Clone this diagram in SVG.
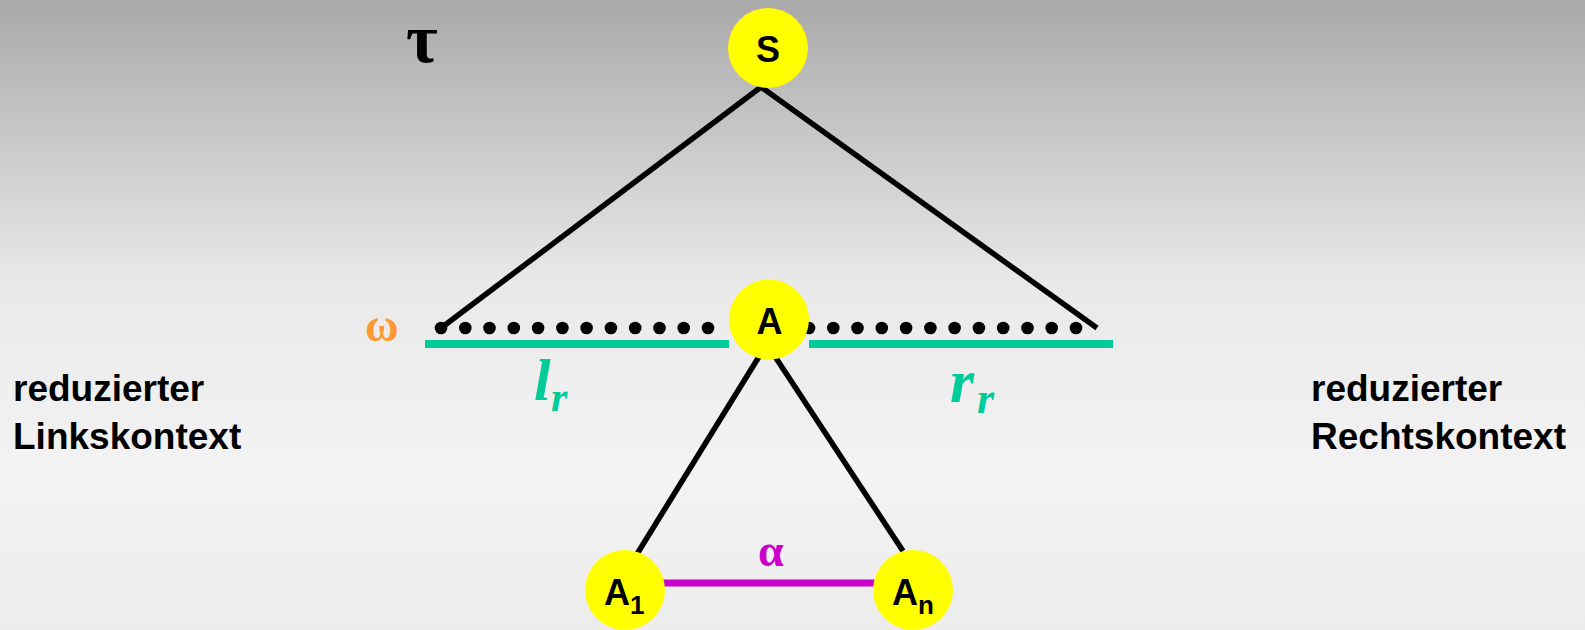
<svg xmlns="http://www.w3.org/2000/svg" width="1585" height="630" viewBox="0 0 1585 630">
<defs>
<linearGradient id="bg" x1="0" y1="0" x2="0" y2="1">
<stop offset="0" stop-color="#a9a9a9"/>
<stop offset="0.45" stop-color="#e9e9e9"/>
<stop offset="0.75" stop-color="#f3f3f3"/>
<stop offset="1" stop-color="#ececec"/>
</linearGradient>
<style>
.node{fill:#ffff00}
.lbl{font-family:"Liberation Sans",Arial,sans-serif;font-weight:bold;fill:#000}
.edge{stroke:#000;stroke-width:5.5;fill:none}
.dot{fill:#000}
.ctx{fill:#00cc99}
.sym{font-family:"Liberation Serif","Times New Roman",serif;font-weight:bold}
.green{fill:#00cc99;font-style:italic}
</style>
</defs>
<rect width="1585" height="630" fill="url(#bg)"/>
<text class="sym" x="406" y="62" font-size="69" fill="#000">τ</text>

<g id="connectors">
<line class="edge" x1="761" y1="87" x2="441" y2="328"/>
<line class="edge" x1="761" y1="87" x2="1097" y2="328"/>
<line class="edge" x1="760" y1="355" x2="637" y2="554"/>
<line class="edge" x1="774" y1="355" x2="903" y2="551"/>
<line x1="650" y1="583" x2="890" y2="583" stroke="#cc00cc" stroke-width="7"/>
</g>

<g id="dots-left">
<circle class="dot" cx="441" cy="328" r="6.3"/>
<circle class="dot" cx="465.3" cy="328" r="6.3"/>
<circle class="dot" cx="489.5" cy="328" r="6.3"/>
<circle class="dot" cx="513.8" cy="328" r="6.3"/>
<circle class="dot" cx="538.1" cy="328" r="6.3"/>
<circle class="dot" cx="562.4" cy="328" r="6.3"/>
<circle class="dot" cx="586.6" cy="328" r="6.3"/>
<circle class="dot" cx="610.9" cy="328" r="6.3"/>
<circle class="dot" cx="635.2" cy="328" r="6.3"/>
<circle class="dot" cx="659.5" cy="328" r="6.3"/>
<circle class="dot" cx="683.7" cy="328" r="6.3"/>
<circle class="dot" cx="708" cy="328" r="6.3"/>
</g>
<g id="dots-right">
<circle class="dot" cx="809" cy="328" r="6.3"/>
<circle class="dot" cx="833.3" cy="328" r="6.3"/>
<circle class="dot" cx="857.5" cy="328" r="6.3"/>
<circle class="dot" cx="881.8" cy="328" r="6.3"/>
<circle class="dot" cx="906.1" cy="328" r="6.3"/>
<circle class="dot" cx="930.4" cy="328" r="6.3"/>
<circle class="dot" cx="954.6" cy="328" r="6.3"/>
<circle class="dot" cx="978.9" cy="328" r="6.3"/>
<circle class="dot" cx="1003.2" cy="328" r="6.3"/>
<circle class="dot" cx="1027.5" cy="328" r="6.3"/>
<circle class="dot" cx="1051.7" cy="328" r="6.3"/>
<circle class="dot" cx="1076" cy="328" r="6.3"/>
</g>

<g id="context-left">
<rect class="ctx" x="425" y="340" width="304" height="8"/>
<text class="sym green" x="534" y="400" font-size="60">l</text>
<text class="sym green" x="551" y="411" font-size="42">r</text>
</g>
<g id="context-right">
<rect class="ctx" x="809" y="340" width="304" height="8"/>
<text class="sym green" x="950" y="402" font-size="62">r</text>
<text class="sym green" x="977" y="413" font-size="44">r</text>
</g>

<text class="sym" x="365" y="341" font-size="46" fill="#ff9933">ω</text>
<text class="sym" x="758" y="566" font-size="46" fill="#cc00cc">α</text>

<g id="node-S">
<circle class="node" cx="768" cy="48" r="40"/>
<text class="lbl" x="768" y="62" font-size="36" text-anchor="middle">S</text>
</g>
<g id="node-A">
<circle class="node" cx="769" cy="319.5" r="40"/>
<text class="lbl" x="769.5" y="334" font-size="36" text-anchor="middle">A</text>
</g>
<g id="node-A1">
<circle class="node" cx="625" cy="590" r="40"/>
<text class="lbl" x="604" y="605" font-size="36">A<tspan font-size="26" dy="9">1</tspan></text>
</g>
<g id="node-An">
<circle class="node" cx="913" cy="590" r="40"/>
<text class="lbl" x="892" y="605" font-size="36">A<tspan font-size="26" dy="9">n</tspan></text>
</g>

<g id="label-left">
<text class="lbl" x="13" y="401" font-size="37">reduzierter</text>
<text class="lbl" x="13" y="449" font-size="37">Linkskontext</text>
</g>
<g id="label-right">
<text class="lbl" x="1311" y="401" font-size="37">reduzierter</text>
<text class="lbl" x="1311" y="449" font-size="37">Rechtskontext</text>
</g>
</svg>
